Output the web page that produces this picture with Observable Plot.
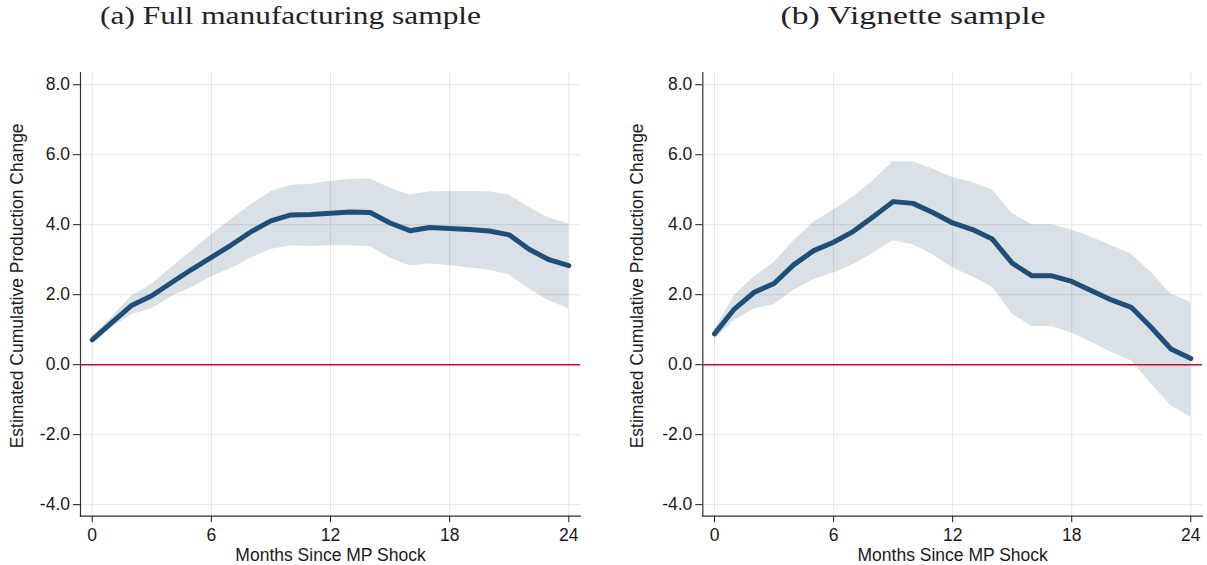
<!DOCTYPE html>
<html>
<head>
<meta charset="utf-8">
<script src="https://cdn.jsdelivr.net/npm/d3@7"></script>
<script src="https://cdn.jsdelivr.net/npm/@observablehq/plot@0.6"></script>
<style>
  html, body { margin: 0; padding: 0; background: #fff; }
  body { width: 1207px; height: 565px; position: relative; overflow: hidden; }
  .panel { position: absolute; top: 0; }
  .panel svg.title { display: block; }
</style>
</head>
<body>
<div id="left" class="panel" style="left:0px"></div>
<div id="right" class="panel" style="left:604px"></div>
<script>
// ---- data ----
const months = [0,1,2,3,4,5,6,7,8,9,10,11,12,13,14,15,16,17,18,19,20,21,22,23,24];

const estFull = [0.71,1.21,1.70,1.97,2.35,2.72,3.07,3.42,3.80,4.11,4.28,4.29,4.33,4.36,4.35,4.05,3.83,3.92,3.89,3.86,3.82,3.71,3.30,3.00,2.83];
const hiFull  = [0.80,1.37,1.97,2.30,2.78,3.25,3.71,4.15,4.57,4.94,5.13,5.16,5.24,5.30,5.31,5.05,4.85,4.94,4.95,4.95,4.94,4.85,4.49,4.19,4.02];
const loFull  = [0.62,1.07,1.43,1.60,1.95,2.20,2.51,2.75,3.05,3.29,3.40,3.38,3.40,3.40,3.37,3.05,2.83,2.88,2.83,2.76,2.70,2.57,2.16,1.83,1.59];

const estVig = [0.88,1.59,2.07,2.32,2.86,3.26,3.50,3.81,4.23,4.66,4.61,4.35,4.05,3.86,3.59,2.90,2.54,2.54,2.38,2.11,1.85,1.64,1.07,0.45,0.18];
const hiVig  = [1.00,1.97,2.51,2.92,3.54,4.07,4.42,4.80,5.26,5.80,5.80,5.59,5.35,5.21,4.99,4.32,4.00,4.00,3.85,3.64,3.40,3.16,2.64,2.02,1.78];
const loVig  = [0.72,1.26,1.59,1.71,2.13,2.43,2.62,2.86,3.19,3.54,3.43,3.14,2.76,2.51,2.21,1.45,1.09,1.09,0.90,0.64,0.35,0.11,-0.55,-1.17,-1.50];

const xTicks = [0, 6, 12, 18, 24];
const yTicks = [-4, -2, 0, 2, 4, 6, 8];

const titles = ["(a) Full manufacturing sample", "(b) Vignette sample"];
const xLabel = "Months Since MP Shock";
const yLabel = "Estimated Cumulative Production Change";

// ---- drawing ----
function rows(est, lo, hi) {
  return months.map((m, i) => ({m, est: est[i], lo: lo[i], hi: hi[i]}));
}

function makePanel(el, cfg) {
  const ns = "http://www.w3.org/2000/svg";
  const tsvg = document.createElementNS(ns, "svg");
  tsvg.setAttribute("class", "title");
  tsvg.setAttribute("width", cfg.width);
  tsvg.setAttribute("height", 50);
  const t = document.createElementNS(ns, "text");
  t.setAttribute("x", cfg.titleX);
  t.setAttribute("y", 24);
  t.setAttribute("text-anchor", "middle");
  t.setAttribute("font-family", "Liberation Serif, 'DejaVu Serif', serif");
  t.setAttribute("font-size", "24.5");
  t.setAttribute("fill", "#222");
  t.setAttribute("textLength", cfg.titleLen);
  t.setAttribute("lengthAdjust", "spacingAndGlyphs");
  t.textContent = cfg.title;
  tsvg.appendChild(t);
  el.appendChild(tsvg);

  const data = rows(cfg.est, cfg.lo, cfg.hi);
  const chart = Plot.plot({
    width: cfg.width,
    height: 515,
    marginTop: 22,
    marginBottom: 49.3,
    marginLeft: cfg.ml,
    marginRight: cfg.mr,
    style: {fontFamily: "'Liberation Sans', Arial, sans-serif", fontSize: "17.5px", color: "#1a1a1a", background: "#fff"},
    x: {domain: [-0.59, 24.59]},
    y: {domain: [-4.33, 8.35]},
    marks: [
      Plot.gridX(xTicks, {stroke: "#e6e6e6", strokeOpacity: 1, strokeWidth: 1}),
      Plot.gridY(yTicks, {stroke: "#e6e6e6", strokeOpacity: 1, strokeWidth: 1}),
      Plot.areaY(data, {x: "m", y1: "lo", y2: "hi", fill: "#1a476f", fillOpacity: 0.165}),
      Plot.ruleY([0], {stroke: "#c8102e", strokeWidth: 1.4}),
      Plot.lineY(data, {x: "m", y: "est", stroke: "#1f4e79", strokeWidth: 5, strokeLinejoin: "round"}),
      Plot.axisX(xTicks, {tickSize: 6.5, tickPadding: 6, label: null, tickFormat: d => String(d)}),
      Plot.axisY(yTicks, {tickSize: 7, tickPadding: 3.5, label: null, tickFormat: d => d.toFixed(1)}),
      Plot.frame({anchor: "left", stroke: "#333", strokeWidth: 1.2}),
      Plot.frame({anchor: "bottom", stroke: "#333", strokeWidth: 1.2}),
      Plot.text([xLabel], {text: d => d, frameAnchor: "bottom", textAnchor: "middle", lineAnchor: "middle", dy: 38.7, fill: "#1a1a1a"}),
      Plot.text([yLabel], {text: d => d, frameAnchor: "left", textAnchor: "middle", lineAnchor: "middle", rotate: -90, dx: cfg.ylx, dy: -8.5, fill: "#1a1a1a"})
    ]
  });
  chart.style.display = "block";
  el.appendChild(chart);
}

makePanel(document.getElementById("left"), {
  width: 600, ml: 80, mr: 20, title: titles[0], titleX: 290.5, titleLen: 381,
  est: estFull, lo: loFull, hi: hiFull, ylx: -63
});
makePanel(document.getElementById("right"), {
  width: 603, ml: 98.3, mr: 5, title: titles[1], titleX: 309, titleLen: 265,
  est: estVig, lo: loVig, hi: hiVig, ylx: -65.3
});
</script>
</body>
</html>
